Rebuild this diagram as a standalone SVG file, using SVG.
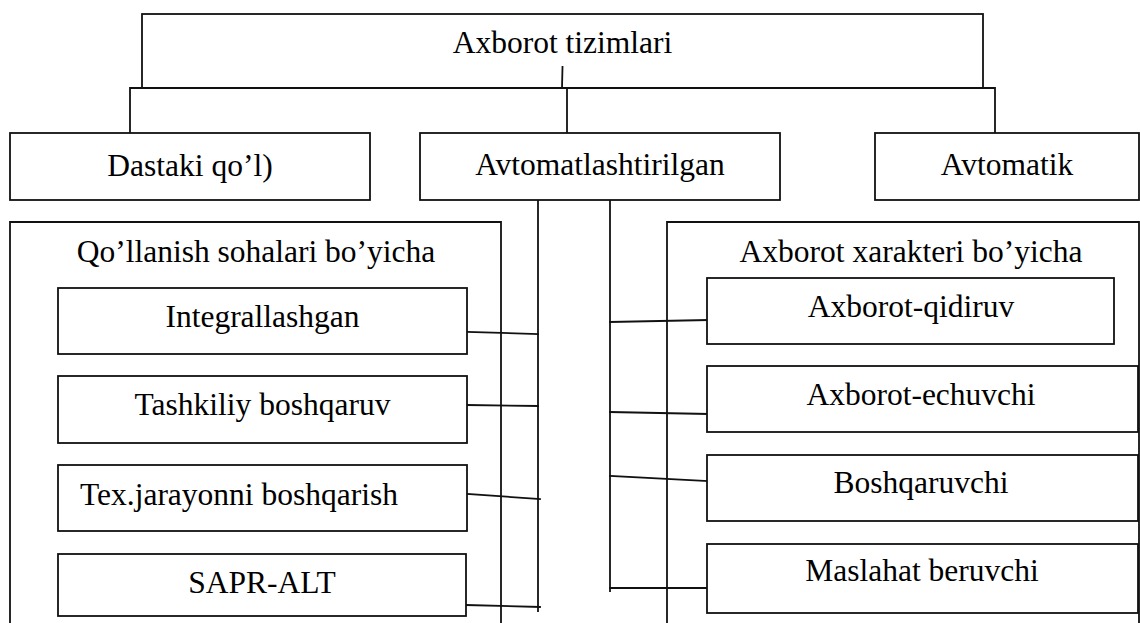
<svg xmlns="http://www.w3.org/2000/svg" width="1140" height="623" viewBox="0 0 1140 623">
  <style>
    .box { fill: #fff; stroke: #111; stroke-width: 1.8; }
    .frame { fill: none; stroke: #111; stroke-width: 1.8; }
    .wire { fill: none; stroke: #111; stroke-width: 1.8; stroke-linecap: square; }
    .t { font-family: 'Liberation Serif', serif; font-size: 31.5px; fill: #000; }
    .c { text-anchor: middle; }
  </style>
  <rect width="1140" height="623" fill="#fff"/>

  <!-- group frames (open at the bottom) -->
  <g id="frame-sohalar">
    <path class="frame" d="M10,623 V222 H501 V623"/>
    <text class="t c" x="256" y="262">Qo’llanish sohalari bo’yicha</text>
  </g>
  <g id="frame-xarakter">
    <path class="frame" d="M667,623 V222 H1139 V623"/>
    <text class="t c" x="911" y="262">Axborot xarakteri bo’yicha</text>
  </g>

  <!-- connectors -->
  <g id="connectors">
    <path class="wire" d="M562.5,67 L562,88"/>
    <path class="wire" d="M130,133 V88 H995 V133"/>
    <path class="wire" d="M567,88 V133"/>
    <path class="wire" d="M538,200 V611"/>
    <path class="wire" d="M610,200 V591"/>
    <path class="wire" d="M467,332 L538,334"/>
    <path class="wire" d="M467,405 L538,406"/>
    <path class="wire" d="M467,494 L540,499"/>
    <path class="wire" d="M466,605 L540,607"/>
    <path class="wire" d="M610,322 L708,320"/>
    <path class="wire" d="M610,412 L708,414"/>
    <path class="wire" d="M610,476 L708,481"/>
    <path class="wire" d="M610,588 L707,588"/>
  </g>

  <g id="axborot-tizimlari">
    <rect class="frame" x="142" y="14" width="841" height="74"/>
    <text class="t c" x="562.5" y="53">Axborot tizimlari</text>
  </g>

  <g id="dastaki">
    <rect class="box" x="10" y="133" width="360" height="67"/>
    <text class="t c" x="190" y="176">Dastaki qo’l)</text>
  </g>
  <g id="avtomatlashtirilgan">
    <rect class="box" x="420" y="133" width="360" height="67"/>
    <text class="t c" x="600" y="175">Avtomatlashtirilgan</text>
  </g>
  <g id="avtomatik">
    <rect class="box" x="875" y="133" width="264" height="67"/>
    <text class="t c" x="1007" y="175">Avtomatik</text>
  </g>

  <g id="integrallashgan">
    <rect class="box" x="58" y="288" width="409" height="66"/>
    <text class="t c" x="262.5" y="327">Integrallashgan</text>
  </g>
  <g id="tashkiliy">
    <rect class="box" x="58" y="376" width="409" height="67"/>
    <text class="t c" x="262.5" y="415">Tashkiliy boshqaruv</text>
  </g>
  <g id="tex-jarayon">
    <rect class="box" x="58" y="465" width="409" height="66"/>
    <text class="t" x="80" y="505">Tex.jarayonni boshqarish</text>
  </g>
  <g id="sapr-alt">
    <rect class="box" x="58" y="554" width="408" height="62"/>
    <text class="t c" x="262" y="593">SAPR-ALT</text>
  </g>

  <g id="axborot-qidiruv">
    <rect class="box" x="707" y="278" width="407" height="66"/>
    <text class="t c" x="911" y="317">Axborot-qidiruv</text>
  </g>
  <g id="axborot-echuvchi">
    <rect class="box" x="707" y="366" width="431" height="66"/>
    <text class="t c" x="921" y="405">Axborot-echuvchi</text>
  </g>
  <g id="boshqaruvchi">
    <rect class="box" x="707" y="455" width="431" height="66"/>
    <text class="t c" x="921" y="493">Boshqaruvchi</text>
  </g>
  <g id="maslahat-beruvchi">
    <rect class="box" x="707" y="544" width="431" height="69"/>
    <text class="t c" x="922" y="581">Maslahat beruvchi</text>
  </g>
</svg>
